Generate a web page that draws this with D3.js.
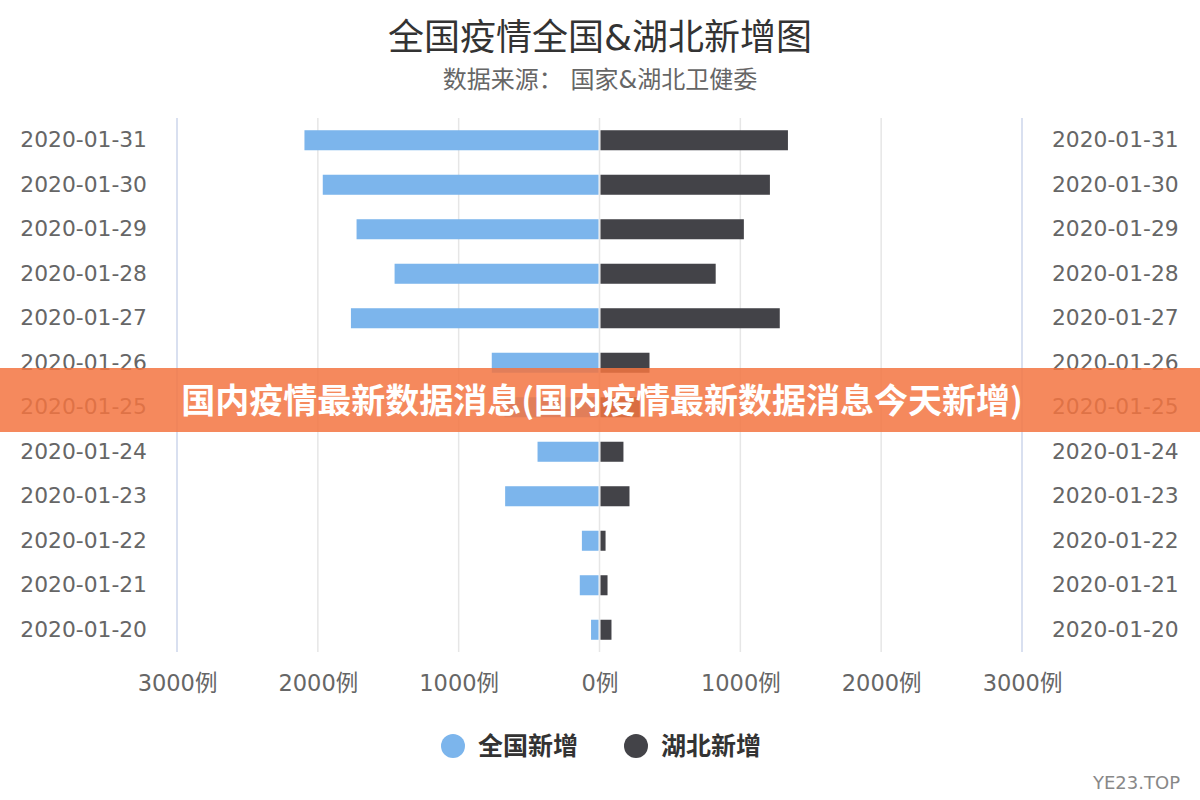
<!DOCTYPE html>
<html>
<head>
<meta charset="utf-8">
<script src="https://cdn.jsdelivr.net/npm/d3@7"></script>
<style>
  body { margin: 0; background: #fff; }
  text { font-family: "DejaVu Sans", "Noto Sans CJK SC", sans-serif; }
</style>
</head>
<body>
<div id="chart"></div>
<script>
const dates = ['2020-01-20','2020-01-21','2020-01-22','2020-01-23','2020-01-24','2020-01-25',
               '2020-01-26','2020-01-27','2020-01-28','2020-01-29','2020-01-30','2020-01-31'];
const national = [60, 140, 125, 670, 440, 675, 765, 1765, 1455, 1725, 1965, 2095];
const hubei = [85, 57, 43, 213, 170, 285, 355, 1280, 825, 1025, 1210, 1338];
const xTicks = [-3000, -2000, -1000, 0, 1000, 2000, 3000];
const seriesNames = ['全国新增', '湖北新增'];
const seriesColors = ['#7cb5ec', '#434348'];

const width = 1200, height = 800;
const svg = d3.select("#chart").append("svg").attr("width", width).attr("height", height)

const x = d3.scaleLinear().domain([-3000, 3000]).range([177, 1022]);
const y = d3.scaleBand().domain(dates.slice().reverse()).range([118, 652]).paddingInner(0.55).paddingOuter(0.275);

// title
svg.append("text").text("全国疫情全国&湖北新增图").attr("x", 600).attr("y", 50)
  .attr("text-anchor", "middle").attr("font-size", 36).attr("fill", "#333")
svg.append("text").text("数据来源： 国家&湖北卫健委").attr("x", 600).attr("y", 88)
  .attr("text-anchor", "middle").attr("font-size", 24).attr("fill", "#666")

// grid
svg.append("g").selectAll("line").data(xTicks).enter().append("line")
  .attr("x1", d => x(d)).attr("x2", d => x(d))
  .attr("y1", 118).attr("y2", 652)
  .attr("stroke", d => Math.abs(d) == 3000 ? "#ccd6eb" : "#e6e6e6").attr("stroke-width", 1.5)

// bottom axis (labels only)
const xAxis = d3.axisBottom(x).tickValues(xTicks).tickSize(0).tickFormat(d => Math.abs(d) + "例");
const gx = svg.append("g").attr("transform", "translate(0,652)").call(xAxis)
gx.select(".domain").remove()
gx.selectAll("text").attr("dy", 0).attr("y", 39).attr("font-size", 22.5).attr("fill", "#666")
  .style("font-family", '"DejaVu Sans", "Noto Sans CJK SC", sans-serif')

// left and right category labels
const yLeft = d3.axisLeft(y).tickSize(0);
const gl = svg.append("g").attr("transform", "translate(147,0)").call(yLeft)
gl.select(".domain").remove()
gl.selectAll("text").attr("x", 0).attr("font-size", 21.8).attr("fill", "#666")
  .style("font-family", '"DejaVu Sans", sans-serif')
const yRight = d3.axisRight(y).tickSize(0);
const gr = svg.append("g").attr("transform", "translate(1052,0)").call(yRight)
gr.select(".domain").remove()
gr.selectAll("text").attr("x", 0).attr("font-size", 21.8).attr("fill", "#666")
  .style("font-family", '"DejaVu Sans", sans-serif')

// bars
svg.append("g").selectAll("rect").data(dates).enter().append("rect")
  .attr("x", (d, i) => x(-national[i]))
  .attr("y", d => y(d))
  .attr("width", (d, i) => x(0) - 1 - x(-national[i]))
  .attr("height", y.bandwidth())
  .attr("fill", seriesColors[0])
svg.append("g").selectAll("rect").data(dates).enter().append("rect")
  .attr("x", x(0) + 1)
  .attr("y", d => y(d))
  .attr("width", (d, i) => x(hubei[i]) - x(0) - 1)
  .attr("height", y.bandwidth())
  .attr("fill", seriesColors[1])

// legend
const legendX = [453, 636];
const lg = svg.append("g")
seriesNames.forEach((name, i) => {
  lg.append("circle").attr("cx", legendX[i]).attr("cy", 746).attr("r", 12).attr("fill", seriesColors[i])
  lg.append("text").text(name).attr("x", legendX[i] + 25).attr("y", 755)
    .attr("font-size", 25).attr("font-weight", "bold").attr("fill", "#333")
})

// overlay banner
svg.append("rect").attr("x", 0).attr("y", 368).attr("width", width).attr("height", 64)
  .attr("fill", "#f37441").attr("opacity", 0.85)
svg.append("text").text("国内疫情最新数据消息(国内疫情最新数据消息今天新增)")
  .attr("x", 602).attr("y", 413).attr("text-anchor", "middle")
  .attr("font-size", 34).attr("font-weight", "bold").attr("fill", "#fff")
  .style("font-family", '"Noto Sans CJK SC", sans-serif')

svg.append("text").text("YE23.TOP").attr("x", 1180).attr("y", 789).attr("text-anchor", "end")
  .attr("font-size", 18).attr("fill", "#888")
</script>
</body>
</html>
